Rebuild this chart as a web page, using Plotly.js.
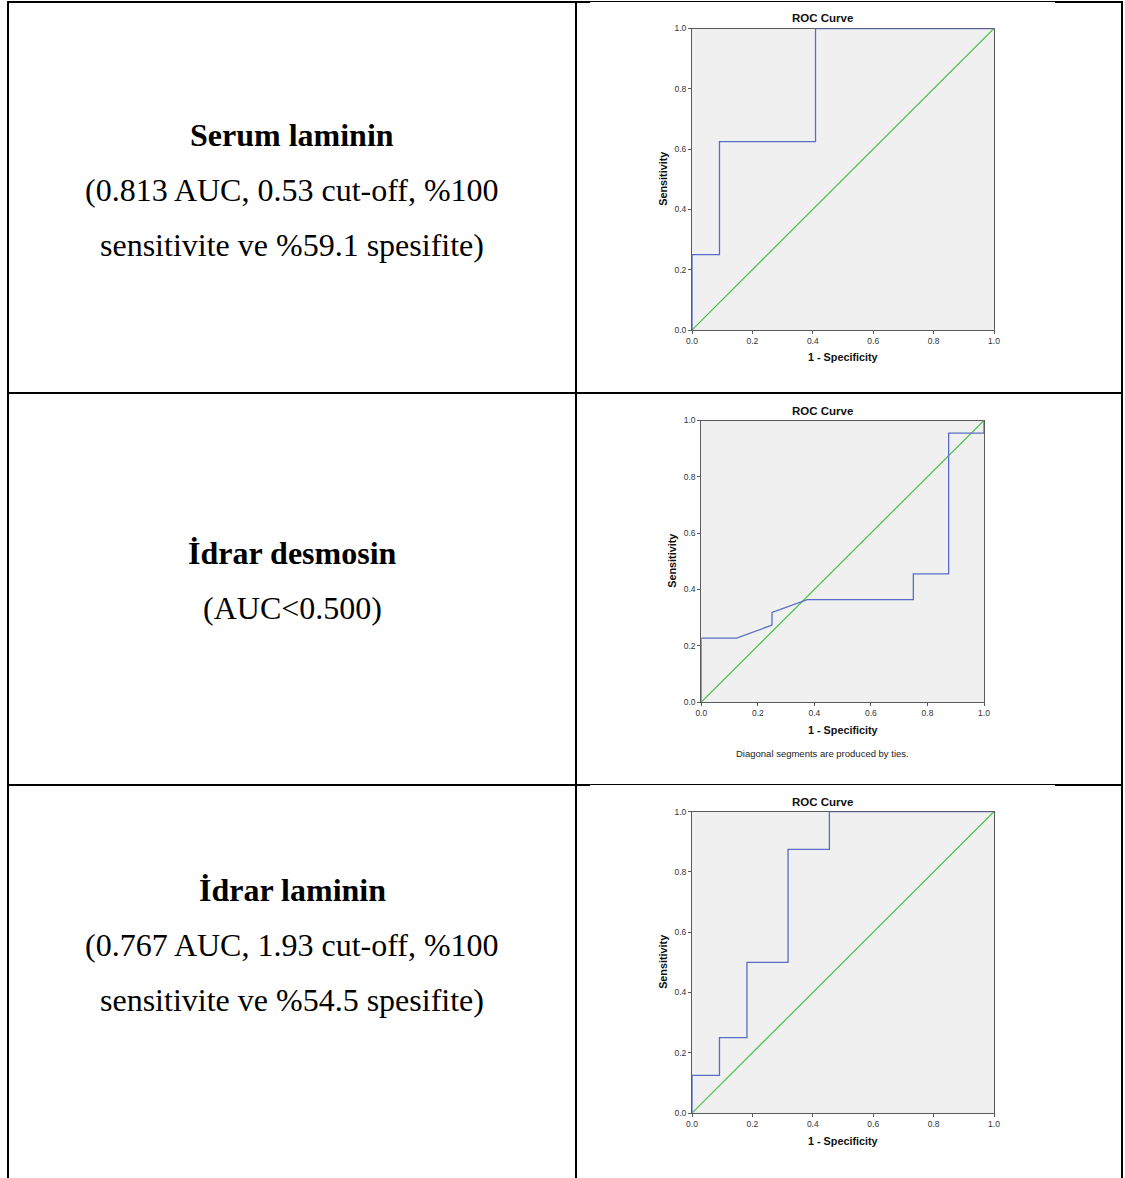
<!DOCTYPE html>
<html>
<head>
<meta charset="utf-8">
<script src="https://cdn.plot.ly/plotly-3.0.1.min.js"></script>
<style>
  html, body { margin: 0; padding: 0; background: #ffffff; }
  #chart { width: 1125px; height: 1178px; }
</style>
</head>
<body>
<div id="chart"></div>
<script>
// ---------------- data ----------------
const tickVals = [0, 0.2, 0.4, 0.6, 0.8, 1.0];
const tickText = ['0.0', '0.2', '0.4', '0.6', '0.8', '1.0'];

// Serum laminin ROC (1 - specificity, sensitivity)
const serumFpr = [0, 0, 0.091, 0.091, 0.409, 0.409, 1];
const serumTpr = [0, 0.25, 0.25, 0.625, 0.625, 1, 1];

// İdrar desmosin ROC
const desmFpr = [0, 0, 0.125, 0.25, 0.25, 0.375, 0.75, 0.75, 0.875, 0.875, 1, 1];
const desmTpr = [0, 0.227, 0.227, 0.273, 0.318, 0.364, 0.364, 0.455, 0.455, 0.955, 0.955, 1];

// İdrar laminin ROC
const idrarFpr = [0, 0, 0.091, 0.091, 0.182, 0.182, 0.318, 0.318, 0.455, 0.455, 1];
const idrarTpr = [0, 0.125, 0.125, 0.25, 0.25, 0.5, 0.5, 0.875, 0.875, 1, 1];

// reference diagonal
const refX = [0, 1];
const refY = [0, 1];

const rowTitles = ['Serum laminin', 'İdrar desmosin', 'İdrar laminin'];
const rowDetails = [
  ['(0.813 AUC, 0.53 cut-off, %100', 'sensitivite ve %59.1 spesifite)'],
  ['(AUC<0.500)'],
  ['(0.767 AUC, 1.93 cut-off, %100', 'sensitivite ve %54.5 spesifite)']
];
const chartTitle = 'ROC Curve';
const xLabel = '1 - Specificity';
const yLabel = 'Sensitivity';
const footnote = 'Diagonal segments are produced by ties.';

// ---------------- layout helpers ----------------
const W = 1125, H = 1178;
const px = x => x / W;
const py = y => 1 - y / H;

const boxes = [
  { l: 692, r: 994, t: 28.5, b: 330, title: 18, ylab: 663, xlab: 357 },
  { l: 701.3, r: 984, t: 420.5, b: 702, title: 410.5, ylab: 672, xlab: 730 },
  { l: 692, r: 994, t: 811.7, b: 1113, title: 801.5, ylab: 663, xlab: 1141 }
];
const rowTextY = [[135, 190, 245], [553, 608], [890, 945, 1000]];

const sans = '"Liberation Sans", Arial, sans-serif';
const serif = '"Liberation Serif", "Times New Roman", serif';
const blue = '#5b6cc6';
const green = '#44c244';
const frame = '#5a5a5a';

const series = [[serumFpr, serumTpr], [desmFpr, desmTpr], [idrarFpr, idrarTpr]];

const data = [];
const layout = {
  width: W, height: H,
  margin: { l: 0, r: 0, t: 0, b: 0 },
  paper_bgcolor: '#ffffff',
  plot_bgcolor: '#f0f0f0',
  showlegend: false,
  hovermode: false,
  annotations: [],
  shapes: []
};

boxes.forEach((bx, i) => {
  const n = i + 1;
  const xa = 'x' + (n === 1 ? '' : n);
  const ya = 'y' + (n === 1 ? '' : n);
  data.push({
    x: refX, y: refY, xaxis: xa, yaxis: ya,
    type: 'scatter', mode: 'lines',
    line: { color: green, width: 1.2 }
  });
  data.push({
    x: series[i][0], y: series[i][1], xaxis: xa, yaxis: ya,
    type: 'scatter', mode: 'lines', cliponaxis: false,
    line: { color: blue, width: 1.3 }
  });
  const axCommon = {
    range: [0, 1], tickvals: tickVals, ticktext: tickText,
    ticks: 'outside', ticklen: 3, tickwidth: 1, tickcolor: frame,
    showline: true, mirror: true, linecolor: frame, linewidth: 1,
    showgrid: false, zeroline: false, fixedrange: true,
    layer: 'below traces',
    tickfont: { family: sans, size: 8.5, color: '#333333' }
  };
  layout['xaxis' + (n === 1 ? '' : n)] = Object.assign({}, axCommon, {
    domain: [px(bx.l), px(bx.r)], anchor: ya
  });
  layout['yaxis' + (n === 1 ? '' : n)] = Object.assign({}, axCommon, {
    domain: [py(bx.b), py(bx.t)], anchor: xa
  });
  layout.annotations.push({
    text: chartTitle, xref: 'paper', yref: 'paper', x: px(822), y: py(bx.title),
    xanchor: 'center', yanchor: 'middle', showarrow: false,
    font: { family: sans, size: 11.5, color: '#111111', weight: 'bold' }
  });
  layout.annotations.push({
    text: yLabel, xref: 'paper', yref: 'paper', x: px(bx.ylab), y: py((bx.t + bx.b) / 2 - 0.5),
    xanchor: 'center', yanchor: 'middle', showarrow: false, textangle: -90,
    font: { family: sans, size: 10.8, color: '#111111', weight: 'bold' }
  });
  layout.annotations.push({
    text: xLabel, xref: 'paper', yref: 'paper', x: px(843), y: py(bx.xlab),
    xanchor: 'center', yanchor: 'middle', showarrow: false,
    font: { family: sans, size: 10.8, color: '#111111', weight: 'bold' }
  });
  // left column text
  layout.annotations.push({
    text: rowTitles[i], xref: 'paper', yref: 'paper', x: px(292), y: py(rowTextY[i][0]),
    xanchor: 'center', yanchor: 'middle', showarrow: false,
    font: { family: serif, size: 32, color: '#000000', weight: 'bold' }
  });
  rowDetails[i].forEach((line, k) => {
    layout.annotations.push({
      text: line, xref: 'paper', yref: 'paper', x: px(292), y: py(rowTextY[i][k + 1]),
      xanchor: 'center', yanchor: 'middle', showarrow: false,
      font: { family: serif, size: 32, color: '#000000' }
    });
  });
});

layout.annotations.push({
  text: footnote, xref: 'paper', yref: 'paper', x: px(822), y: py(753),
  xanchor: 'center', yanchor: 'middle', showarrow: false,
  font: { family: sans, size: 9.5, color: '#222222' }
});

// table borders
function hline(y, x0, x1, w, c) {
  layout.shapes.push({ type: 'line', xref: 'paper', yref: 'paper',
    x0: px(x0), x1: px(x1), y0: py(y), y1: py(y), line: { color: c, width: w } });
}
function vline(x, y0, y1, w, c) {
  layout.shapes.push({ type: 'line', xref: 'paper', yref: 'paper',
    x0: px(x), x1: px(x), y0: py(y0), y1: py(y1), line: { color: c, width: w } });
}
hline(2, 7, 1123, 2, '#000000');
hline(393, 7, 1123, 2, '#000000');
hline(785, 7, 1123, 2, '#000000');
vline(8, 1, H, 2, '#000000');
vline(576, 1, H, 2, '#000000');
vline(1122, 1, H, 2, '#000000');
// chart pictures overlap part of the borders (thinner segments)
hline(2.5, 590, 1055, 1, '#ffffff');
hline(785.5, 590, 1055, 1, '#ffffff');

Plotly.newPlot('chart', data, layout, { staticPlot: true, displayModeBar: false });
</script>
</body>
</html>
